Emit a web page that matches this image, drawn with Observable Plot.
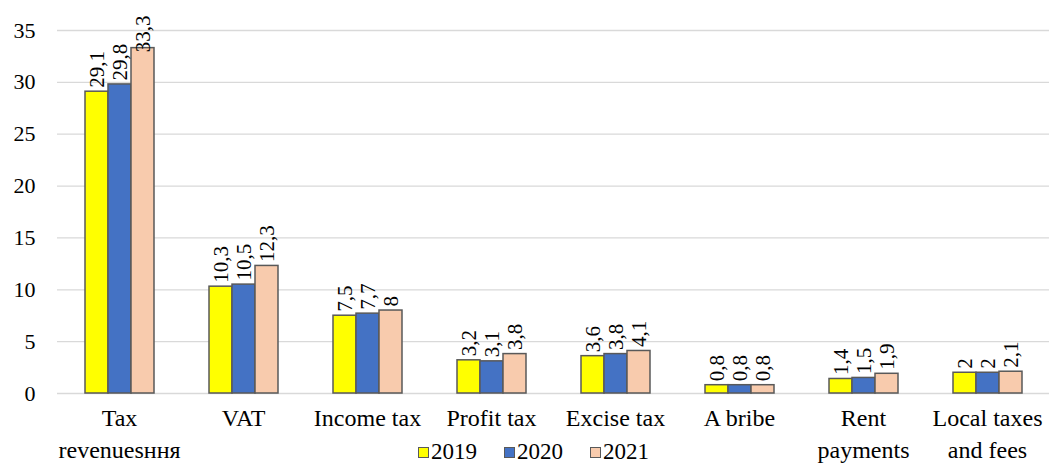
<!DOCTYPE html>
<html>
<head>
<meta charset="utf-8">
<script src="https://cdn.jsdelivr.net/npm/d3@7"></script>
<script src="https://cdn.jsdelivr.net/npm/@observablehq/plot@0.6"></script>
<style>
  html, body { margin: 0; padding: 0; background: #fff; }
  #wrap { position: relative; width: 1051px; height: 464px; font-family: "Liberation Serif", "DejaVu Serif", serif; }
  #chart svg, #chart svg text { font-family: "Liberation Serif", "DejaVu Serif", serif !important; }
  #legend { position: absolute; top: 440px; left: 418px; display: flex; align-items: center; font-size: 23px; line-height: 24px; color: #000; }
  .item { display: flex; align-items: center; margin-right: 27px; }
  .sw { width: 9px; height: 9px; border: 1.5px solid #595959; margin-right: 2px; box-sizing: content-box; }
</style>
</head>
<body>
<div id="wrap"><div id="chart"></div><div id="legend"></div></div>
<script>
const categories = ["Tax\nrevenuesння", "VAT", "Income tax", "Profit tax", "Excise tax", "A bribe", "Rent\npayments", "Local taxes\nand fees"];
const years = ["2019", "2020", "2021"];
const values2019 = [29.1, 10.3, 7.5, 3.2, 3.6, 0.8, 1.4, 2];
const values2020 = [29.8, 10.5, 7.7, 3.1, 3.8, 0.8, 1.5, 2];
const values2021 = [33.3, 12.3, 8, 3.8, 4.1, 0.8, 1.9, 2.1];
const colors = ["#FFFF00", "#4472C4", "#F8CBAD"];
const yTicks = [0, 5, 10, 15, 20, 25, 30, 35];

const series = [values2019, values2020, values2021];
const data = [];
categories.forEach((c, i) => years.forEach((y, j) => data.push({category: c, year: y, value: series[j][i]})));
const fmt = v => String(v).replace(".", ",");
// labels that would not fit above their bar are pinned to the top of the plot area (as Excel does)
const fits = d => d.value <= 32;

const chart = Plot.plot({
  width: 1051,
  height: 464,
  marginLeft: 55,
  marginRight: 0,
  marginTop: 30,
  marginBottom: 71,
  style: {fontFamily: "\"Liberation Serif\", \"DejaVu Serif\", serif", fontSize: "23px", color: "#000", background: "#fff", overflow: "visible"},
  fx: {domain: categories, padding: 0, label: null},
  x: {domain: years, paddingInner: 0, paddingOuter: 1.1, axis: null},
  y: {domain: [0, 35], label: null},
  color: {domain: years, range: colors},
  marks: [
    Plot.gridY(yTicks, {stroke: "#d9d9d9", strokeOpacity: 1, strokeWidth: 1.3}),
    Plot.barY(data, {fx: "category", x: "year", y: "value", fill: "year", stroke: "#595959", strokeWidth: 1.5}),
    Plot.text(data.filter(fits), {fx: "category", x: "year", y: "value", text: d => fmt(d.value), rotate: -90, textAnchor: "start", lineAnchor: "middle", dy: -4, fill: "#000", fontSize: 21}),
    Plot.text(data.filter(d => !fits(d)), {fx: "category", x: "year", frameAnchor: "top", text: d => fmt(d.value), rotate: -90, textAnchor: "end", lineAnchor: "middle", dy: -15, fill: "#000", fontSize: 21}),
    Plot.axisY(yTicks, {tickSize: 0, tickPadding: 22, label: null, fontSize: 22}),
    Plot.axisFx({anchor: "bottom", tickSize: 0, tickPadding: 10, label: null, lineHeight: 1.33, fontSize: 24})
  ]
});
document.getElementById("chart").appendChild(chart);

const legend = document.getElementById("legend");
years.forEach((y, j) => {
  const it = document.createElement("div");
  it.className = "item";
  const sw = document.createElement("div");
  sw.className = "sw";
  sw.style.background = colors[j];
  const t = document.createElement("span");
  t.textContent = y;
  it.appendChild(sw); it.appendChild(t);
  legend.appendChild(it);
});
</script>
</body>
</html>
